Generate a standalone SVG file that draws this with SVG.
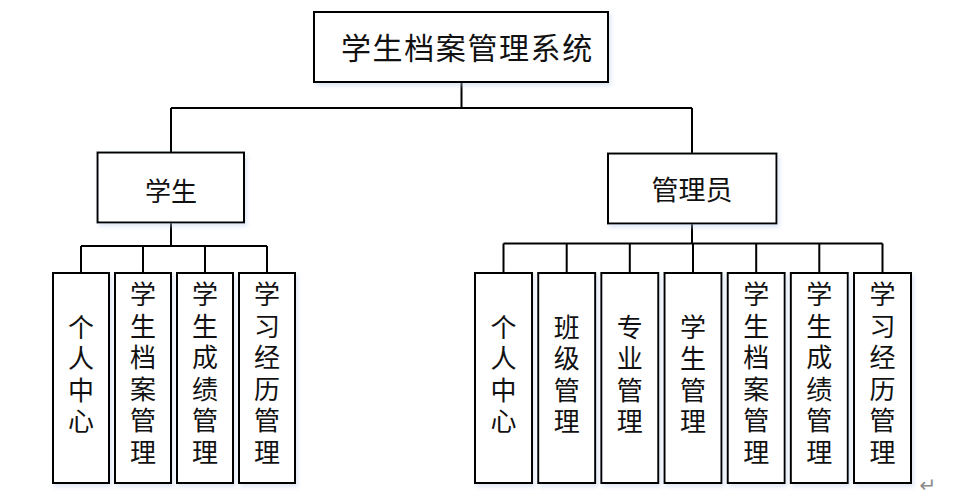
<svg xmlns="http://www.w3.org/2000/svg" width="977" height="498" viewBox="0 0 977 498">
<defs>
<filter id="sh" x="-20%" y="-20%" width="140%" height="140%">
<feDropShadow dx="2" dy="3" stdDeviation="2" flood-color="#b8cbe8" flood-opacity="0.45"/>
</filter>
<style>
rect.n{fill:#ffffff;stroke:#000000;stroke-width:2;filter:url(#sh)}
.c path{fill:none;stroke:#000000;stroke-width:2}
text{font-family:"Noto Sans CJK SC","Noto Sans CJK TC",sans-serif;fill:#111111;text-anchor:middle;dominant-baseline:central}
.t{font-size:30px;letter-spacing:1.6px;text-anchor:start}
.m{font-size:26px}
.l{font-size:26px;writing-mode:vertical-rl;text-orientation:upright;letter-spacing:5.5px}
</style>
</defs>
<rect width="977" height="498" fill="#ffffff"/>
<g class="c" id="connectors">
<path d="M461.5 82V108M171 108H692M171 108V152M692 108V153"/>
<path d="M171 222V246M81 246H267M81 246V273M143 246V273M205 246V273M267 246V273"/>
<path d="M692 223V243.5M503.5 243.5H882.5M503.5 243.5V273M566.7 243.5V273M629.8 243.5V273M693 243.5V273M756.2 243.5V273M819.3 243.5V273M882.5 243.5V273"/>
</g>
<g id="root"><rect class="n" x="314" y="12" width="294" height="70"/><text class="t" x="341" y="46">学生档案管理系统</text></g>
<g id="student"><rect class="n" x="97.5" y="152.5" width="146.5" height="70"/><text class="m" x="171" y="189">学生</text></g>
<g id="admin"><rect class="n" x="608" y="153.5" width="168.5" height="70"/><text class="m" x="692" y="188" style="font-size:27px">管理员</text></g>
<g id="s1"><rect class="n" x="53" y="273" width="56" height="210"/><text class="l" x="81" y="377">个人中心</text></g>
<g id="s2"><rect class="n" x="115" y="273" width="56" height="210"/><text class="l" x="143" y="376">学生档案管理</text></g>
<g id="s3"><rect class="n" x="177" y="273" width="56" height="210"/><text class="l" x="205" y="376">学生成绩管理</text></g>
<g id="s4"><rect class="n" x="239" y="273" width="56" height="210"/><text class="l" x="267" y="376">学习经历管理</text></g>
<g id="a1"><rect class="n" x="475" y="273" width="57" height="210"/><text class="l" x="503.5" y="377">个人中心</text></g>
<g id="a2"><rect class="n" x="538.2" y="273" width="57" height="210"/><text class="l" x="566.7" y="377">班级管理</text></g>
<g id="a3"><rect class="n" x="601.3" y="273" width="57" height="210"/><text class="l" x="629.8" y="377">专业管理</text></g>
<g id="a4"><rect class="n" x="664.5" y="273" width="57" height="210"/><text class="l" x="693" y="377">学生管理</text></g>
<g id="a5"><rect class="n" x="727.7" y="273" width="57" height="210"/><text class="l" x="756.2" y="376">学生档案管理</text></g>
<g id="a6"><rect class="n" x="790.8" y="273" width="57" height="210"/><text class="l" x="819.3" y="376">学生成绩管理</text></g>
<g id="a7"><rect class="n" x="854" y="273" width="57" height="210"/><text class="l" x="882.5" y="376">学习经历管理</text></g>
<text x="928" y="485" style="font-family:'DejaVu Sans',sans-serif;font-size:20px;fill:#8a8a8a">↵</text>
</svg>
